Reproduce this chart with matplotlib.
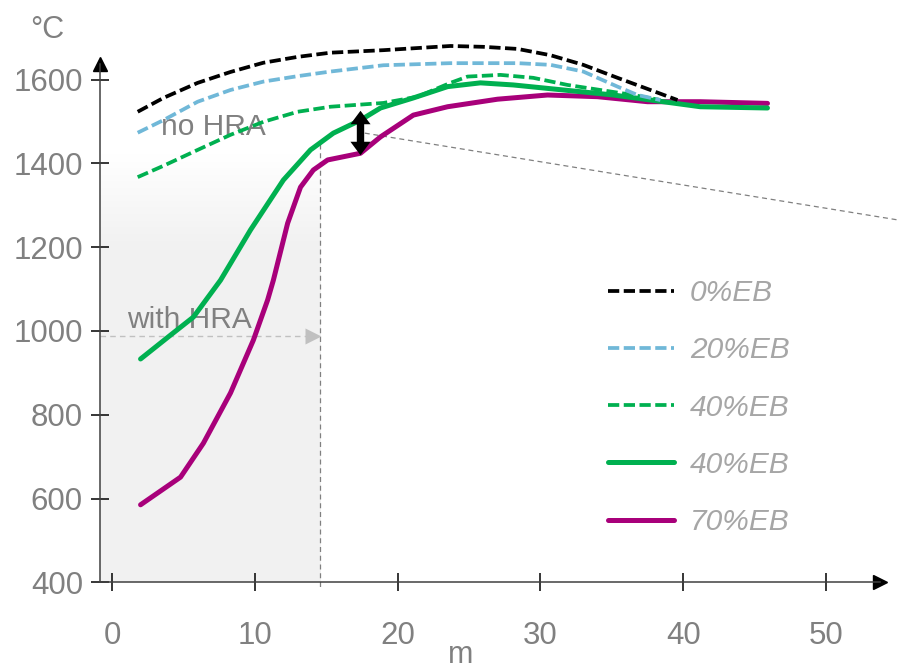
import numpy as np
import matplotlib
matplotlib.use("Agg")
import matplotlib.pyplot as plt
from matplotlib.path import Path
from matplotlib.transforms import offset_copy

plt.rcParams['font.family'] = ['Liberation Sans', 'DejaVu Sans']

# distance (m) vs temperature (degC)
x_0eb = [1.8, 3.6, 6.0, 8.3, 10.6, 13.0, 15.3, 19.0, 23.7, 26.0, 28.4, 30.7, 33.0,
         35.4, 37.7, 39.6]
y_0eb = [1523, 1556, 1592, 1618, 1640, 1654, 1664, 1670, 1680, 1678, 1673, 1658, 1635,
         1604, 1575, 1551]

x_20eb = [1.8, 3.6, 6.0, 8.3, 10.6, 13.0, 15.3, 19.0, 23.7, 28.4, 30.7, 33.0, 35.4,
          36.8, 38.4]
y_20eb = [1473, 1503, 1547, 1575, 1595, 1608, 1619, 1634, 1639, 1639, 1635, 1619, 1583,
          1563, 1551]

x_40eb_d = [1.8, 3.6, 6.0, 8.3, 10.6, 13.0, 15.3, 19.0, 21.4, 23.7, 24.9, 27.2, 29.5,
            31.9, 34.2, 36.5, 38.4]
y_40eb_d = [1367, 1394, 1432, 1468, 1499, 1523, 1535, 1544, 1559, 1592, 1607, 1611, 1604,
            1587, 1575, 1563, 1551]

x_40eb = [2.0, 4.1, 5.7, 7.6, 9.7, 12.0, 13.9, 15.5, 17.4, 18.8, 21.1, 23.5, 25.8,
          28.1, 31.6, 35.1, 38.6, 41.2, 45.9]
y_40eb = [933, 990, 1033, 1121, 1241, 1360, 1432, 1472, 1503, 1532, 1556, 1583, 1592,
          1587, 1575, 1563, 1547, 1535, 1532]

x_70eb = [2.0, 4.8, 6.4, 8.3, 9.9, 10.9, 11.3, 12.3, 13.2, 14.1, 15.1, 17.4, 18.8,
          21.1, 23.5, 27.0, 30.5, 34.0, 37.5, 41.2, 45.9]
y_70eb = [585, 651, 732, 852, 978, 1074, 1121, 1257, 1343, 1384, 1408, 1424, 1463,
          1515, 1535, 1553, 1563, 1559, 1547, 1547, 1543]

labels = ['0%EB', '20%EB', '40%EB', '40%EB', '70%EB']
xticks = [0, 10, 20, 30, 40, 50]
yticks = [400, 600, 800, 1000, 1200, 1400, 1600]

hra_x = 14.57        # end of the shaded "with HRA" zone
gap_x = 17.4         # double arrow position
gap_top, gap_bot = 1525, 1420

W, H = 897, 671
fig = plt.figure(figsize=(W / 100, H / 100), dpi=100)
ax = fig.add_axes([100 / W, (H - 582.3) / H, 780 / W, (582.3 - 64) / H])
xmin, xmax = -0.84, 53.78
ymin, ymax = 400, 1637
ax.set_xlim(xmin, xmax)
ax.set_ylim(ymin, ymax)

# shaded zone fading out to the top
grad = np.linspace(0, 1, 256)
alpha = np.clip((1420 - (ymin + grad * (ymax - ymin))) / 220, 0, 1)
rgba = np.ones((256, 1, 4))
rgba[..., :3] = 0.949
rgba[:, 0, 3] = alpha
ax.imshow(rgba, extent=[xmin, hra_x, ymin, ymax], origin='lower', aspect='auto', zorder=0)

gray = '#808080'
ax.plot([hra_x, hra_x], [1447, 381], color=gray, lw=0.9, ls=(0, (4, 3)), clip_on=False, zorder=1)
ax.plot([xmin, hra_x - 0.5], [988, 988], color='#c0c0c0', lw=1.0, ls=(0, (4, 3)), zorder=1)
ax.plot([hra_x - 0.5], [988], marker='>', ms=11, color='#c0c0c0', mec='none', zorder=1)
ax.plot([17.7, 55.0], [1472, 1265], color=gray, lw=0.9, ls=(0, (4, 3)), clip_on=False, zorder=1)

dash = (0, (3, 1.2))
l70, = ax.plot(x_70eb, y_70eb, color='#a8007a', lw=3.6, solid_capstyle='round',
               solid_joinstyle='round', clip_on=False, zorder=3)
l40, = ax.plot(x_40eb, y_40eb, color='#00b050', lw=3.6, solid_capstyle='round',
               solid_joinstyle='round', clip_on=False, zorder=4)
l40d, = ax.plot(x_40eb_d, y_40eb_d, color='#00b050', lw=2.7, ls=dash, clip_on=False, zorder=5)
l20, = ax.plot(x_20eb, y_20eb, color='#70b8d8', lw=2.7, ls=dash, clip_on=False, zorder=5)
l0, = ax.plot(x_0eb, y_0eb, color='black', lw=2.7, ls=dash, clip_on=False, zorder=6)

# double arrow: thick shaft plus two flat triangles
head_up = Path([(-1, -0.67), (1, -0.67), (0, 0.67), (-1, -0.67)], closed=True)
head_dn = Path([(-1, 0.67), (1, 0.67), (0, -0.67), (-1, 0.67)], closed=True)
ax.plot([gap_x, gap_x], [gap_top - 25, gap_bot + 25], color='black', lw=5.3,
        solid_capstyle='butt', zorder=7)
ax.plot([gap_x], [gap_top], marker=head_up, ms=14.5, color='black', mec='none', zorder=7,
        transform=offset_copy(ax.transData, fig, y=-6.5, units='dots'))
ax.plot([gap_x], [gap_bot], marker=head_dn, ms=14.5, color='black', mec='none', zorder=7,
        transform=offset_copy(ax.transData, fig, y=6.5, units='dots'))

ax.text(3.43, 1467, 'no HRA', color=gray, fontsize=21.5, va='baseline', zorder=2)
ax.text(1.05, 1007, 'with HRA', color=gray, fontsize=21.5, va='baseline', zorder=2)

# axes with arrow heads
for s in ['top', 'right']:
    ax.spines[s].set_visible(False)
for s in ['left', 'bottom']:
    ax.spines[s].set_color('#404040')
    ax.spines[s].set_linewidth(1.1)
ax.plot(0, 1, marker='^', ms=10, color='black', transform=ax.transAxes, clip_on=False)
ax.plot(1, 0, marker='>', ms=10, color='black', transform=ax.transAxes, clip_on=False)

ax.set_xticks(xticks)
ax.set_yticks(yticks)
ax.tick_params(direction='inout', length=12.5, width=1.1, color='black',
               labelsize=22.5, labelcolor=gray)
ax.tick_params(axis='x', pad=21.5)
ax.tick_params(axis='y', pad=6)

fig.text(30 / W, 1 - 38 / H, '°C', color=gray, fontsize=22, va='baseline')
fig.text(448 / W, 1 - 663 / H, 'm', color=gray, fontsize=22, va='baseline')

leg = ax.legend([l0, l20, l40d, l40, l70], labels, frameon=False,
                loc='upper left', bbox_to_anchor=(608 / W, 1 - 279 / H),
                bbox_transform=fig.transFigure, borderpad=0, borderaxespad=0,
                handlelength=2.2, handletextpad=0.55, labelspacing=0.98,
                prop={'size': 21.5, 'style': 'italic'})
for t in leg.get_texts():
    t.set_color('#a6a6a6')

fig.savefig('out.png', dpi=100)
